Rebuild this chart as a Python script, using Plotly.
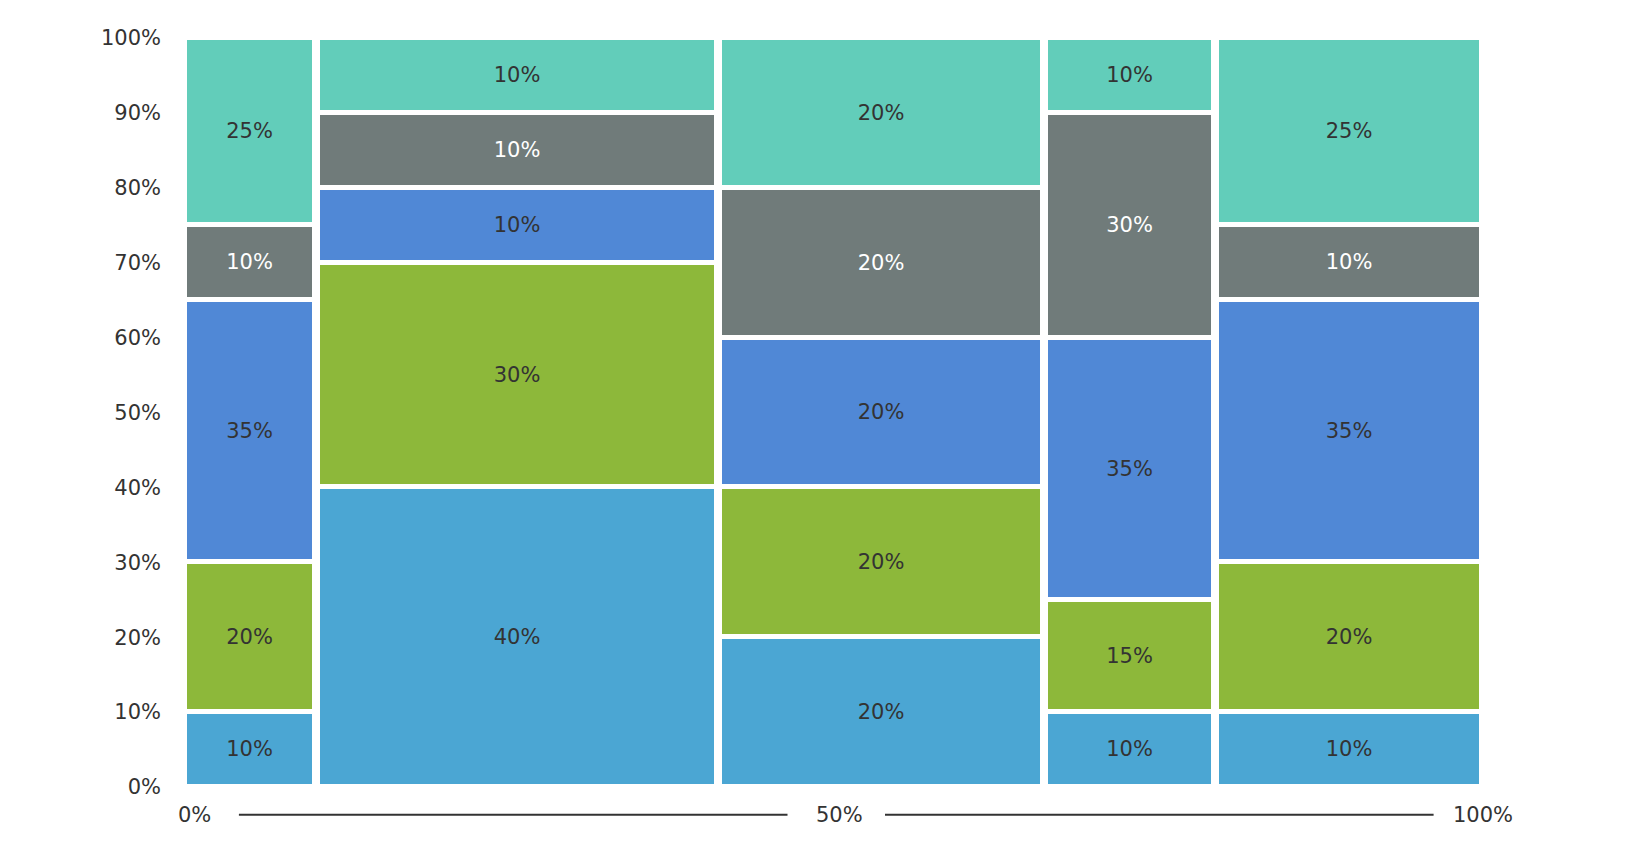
import plotly.graph_objects as go

# column widths (share of the total, %)
widths = [10.3, 30.9, 25.1, 13.1, 20.6]

# segment shares per column, bottom to top
light_blue = [10, 40, 20, 10, 10]
green = [20, 30, 20, 15, 20]
blue = [35, 10, 20, 35, 35]
gray = [10, 10, 20, 30, 10]
teal = [25, 10, 20, 10, 25]

y_ticks = [0, 10, 20, 30, 40, 50, 60, 70, 80, 90, 100]
x_labels = ["0%", "50%", "100%"]

series = [
    (light_blue, "#4ba6d3", "#333333"),
    (green, "#8db83a", "#333333"),
    (blue, "#5088d6", "#333333"),
    (gray, "#707b7a", "#ffffff"),
    (teal, "#62cdba", "#333333"),
]

# left edges / centers of the columns
lefts = []
acc = 0
for w in widths:
    lefts.append(acc)
    acc += w
centers = [l + w / 2 for l, w in zip(lefts, widths)]
gap = 0.23  # extra gap between columns (data units)

fig = go.Figure()
for vals, col, txtcol in series:
    fig.add_trace(go.Bar(
        x=centers, y=vals, width=[w - gap for w in widths],
        marker=dict(color=col, line=dict(color="white", width=5)),
        text=[str(v) + "%" for v in vals], textposition="inside",
        insidetextanchor="middle", textangle=0,
        textfont=dict(color=txtcol, size=21, family="DejaVu Sans"),
        hoverinfo="skip", showlegend=False,
    ))

fig.update_layout(
    barmode="stack", bargap=0,
    width=1640, height=854,
    margin=dict(l=175, r=165, t=30, b=75),
    plot_bgcolor="white", paper_bgcolor="white",
    font=dict(family="DejaVu Sans", size=21, color="#333333"),
    uniformtext=dict(minsize=21, mode="show"),
)
fig.update_yaxes(range=[0, 100], tickvals=y_ticks,
                 ticktext=[str(t) + "%" for t in y_ticks],
                 showgrid=False, zeroline=False, showline=False,
                 ticklabelstandoff=21)
fig.update_xaxes(range=[0, 100], showticklabels=False, showgrid=False,
                 zeroline=False, showline=False)

# bottom scale: 0% — 50% — 100%
ylab = -0.037
for xv, t in zip([0.009, 0.505, 1.0], x_labels):
    fig.add_annotation(x=xv, y=ylab, xref="paper", yref="paper", text=t,
                       showarrow=False, xanchor="center", yanchor="middle",
                       font=dict(size=21, color="#333333"))
for x0, x1 in [(0.043, 0.465), (0.54, 0.962)]:
    fig.add_shape(type="line", x0=x0, x1=x1, y0=ylab, y1=ylab,
                  xref="paper", yref="paper",
                  line=dict(color="#333333", width=2))

fig.write_html("out.html")
